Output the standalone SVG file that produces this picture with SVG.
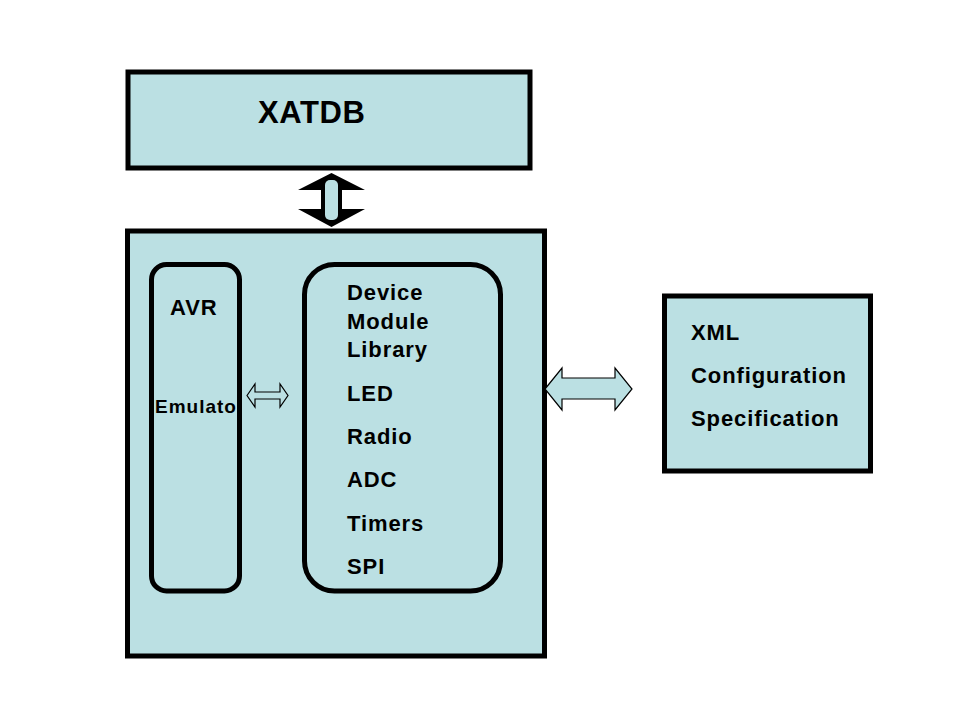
<svg xmlns="http://www.w3.org/2000/svg" width="960" height="720" viewBox="0 0 960 720">
<style>
.box{fill:#BBE0E3;stroke:#000;stroke-width:5}
.rbox{fill:#BBE0E3;stroke:#000;stroke-width:5}
.t{font-family:"Liberation Sans",Arial,sans-serif;font-weight:bold;fill:#000}
.t22{font-size:22px;letter-spacing:0.9px}
.arr{fill:#BBE0E3;stroke:#000;stroke-width:1.2;stroke-linejoin:miter}
</style>
<rect x="0" y="0" width="960" height="720" fill="#fff"/>
<g id="xatdb">
<rect class="box" x="128" y="72" width="402" height="96"/>
<text class="t" x="258" y="123" font-size="31" letter-spacing="0.6">XATDB</text>
</g>
<g id="main">
<rect class="box" x="127.5" y="231" width="417" height="425"/>
</g>
<g id="avr">
<rect class="rbox" x="151.5" y="264.5" width="88" height="326.5" rx="15" ry="15"/>
<text class="t t22" x="170" y="315">AVR</text>
<text class="t" x="155" y="413" font-size="19" letter-spacing="1">Emulato</text>
</g>
<g id="device">
<rect class="rbox" x="304.5" y="264.5" width="196" height="326.5" rx="30" ry="30"/>
<text class="t t22" x="347" y="300">Device</text>
<text class="t t22" x="347" y="328.5">Module</text>
<text class="t t22" x="347" y="357">Library</text>
<text class="t t22" x="347" y="401">LED</text>
<text class="t t22" x="347" y="444">Radio</text>
<text class="t t22" x="347" y="487">ADC</text>
<text class="t t22" x="347" y="531">Timers</text>
<text class="t t22" x="347" y="574">SPI</text>
</g>
<g id="xml">
<rect class="box" x="664.5" y="296" width="206" height="175"/>
<text class="t t22" x="691" y="340">XML</text>
<text class="t t22" x="691" y="383">Configuration</text>
<text class="t t22" x="691" y="426">Specification</text>
</g>
<g id="connectors">
<polygon fill="#000" points="331.5,173 365,190 342,190 342,209 365,209 331.5,227 298,209 321,209 321,190 298,190"/>
<rect x="325" y="180" width="13" height="40" rx="5" fill="#BBE0E3"/>
<polygon class="arr" points="247,395.5 255,384 255,392 280,392 280,384 288,395.5 280,407 280,399 255,399 255,407"/>
<polygon class="arr" points="545,389 562,368 562,378 615,378 615,368 632,389 615,410 615,399 562,399 562,410"/>
</g>
</svg>
